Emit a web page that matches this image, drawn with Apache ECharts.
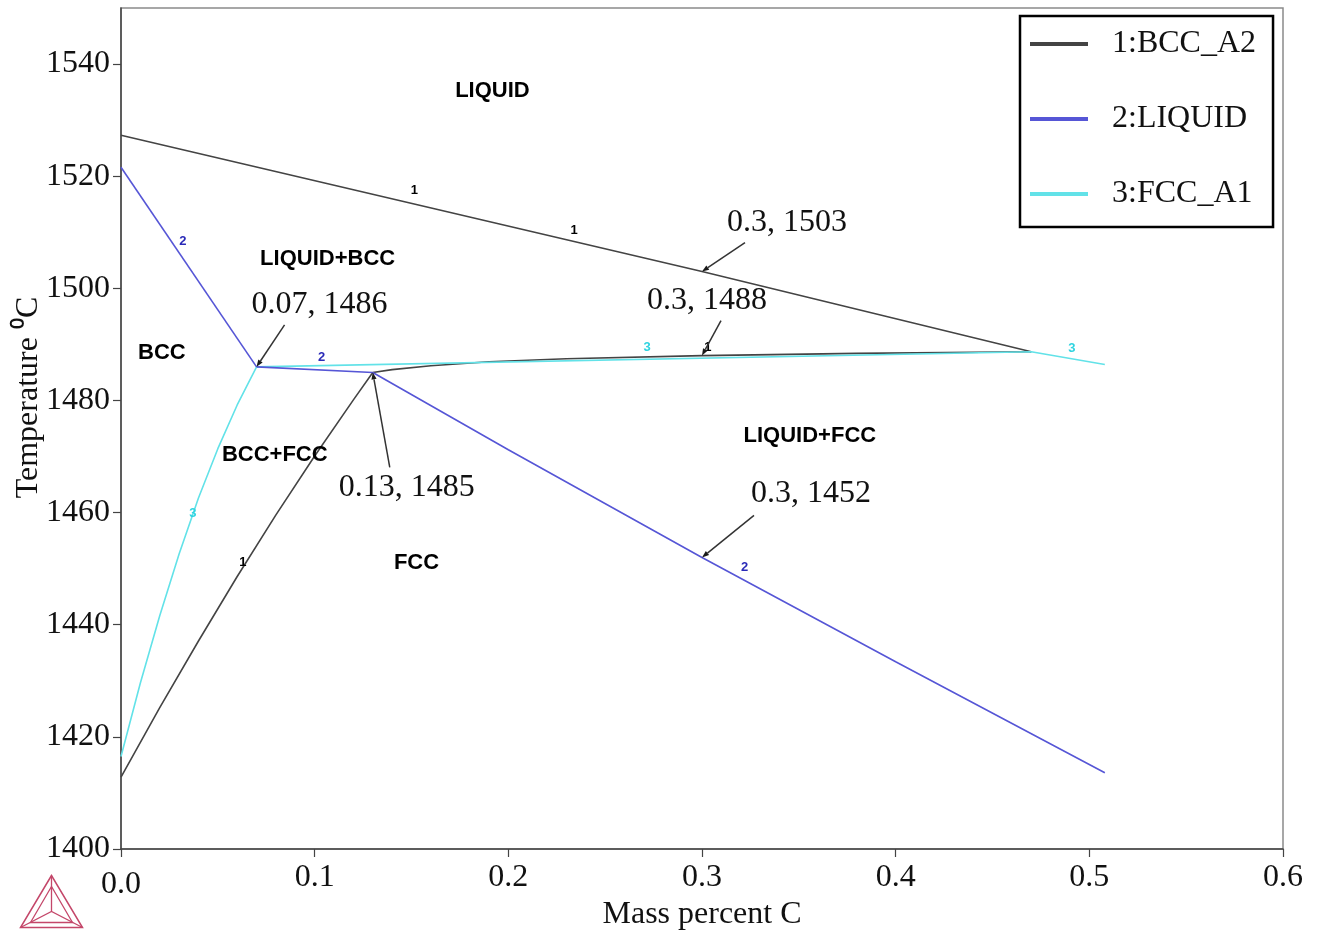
<!DOCTYPE html>
<html>
<head>
<meta charset="utf-8">
<title>Fe-C phase diagram (peritectic region)</title>
<script src="https://cdn.jsdelivr.net/npm/echarts@6/dist/echarts.min.js"></script>
<style>
  html, body { margin: 0; padding: 0; background: #ffffff; }
  #chart { width: 1320px; height: 931px; }
</style>
</head>
<body>
<div id="chart"></div>
<script>
// ---- Axis ticks ----
const xTicks = [0, 0.1, 0.2, 0.3, 0.4, 0.5, 0.6];
const yTicks = [1400, 1420, 1440, 1460, 1480, 1500, 1520, 1540];

// ---- Phase boundaries: [mass percent C, temperature °C] ----
// 1: BCC_A2
const bccUpper = [[0, 1527.3], [0.3, 1503], [0.47, 1488.7]];
const bccLower = [[0.13, 1485], [0.14, 1485.5], [0.16, 1486.2], [0.19, 1486.9], [0.23, 1487.45], [0.3, 1488], [0.38, 1488.4], [0.47, 1488.7]];
const bccSolvus = [[0, 1412.8], [0.02, 1425.2], [0.04, 1437.1], [0.06, 1448.6], [0.08, 1459.6], [0.1, 1470.1], [0.12, 1480.1], [0.13, 1485]];
// 2: LIQUID
const liquidBcc = [[0, 1521.6], [0.07, 1486]];
const liquidFlat = [[0.07, 1486], [0.13, 1485]];
const liquidFcc = [[0.13, 1485], [0.2, 1471.2], [0.3, 1452], [0.4, 1433.4], [0.508, 1413.6]];
// 3: FCC_A1
const fccBcc = [[0, 1416.5], [0.01, 1429.6], [0.02, 1441.6], [0.03, 1452.6], [0.04, 1462.6], [0.05, 1471.4], [0.06, 1479.2], [0.07, 1486]];
const fccUpper = [[0.07, 1486], [0.47, 1488.7], [0.508, 1486.4]];

// ---- Curve number tags along the lines ----
const tags1 = [[0.1515, 1517.4], [0.234, 1510.4], [0.0629, 1451.1], [0.303, 1489.4]];
const tags2 = [[0.032, 1508.3], [0.1036, 1487.6], [0.322, 1450.2]];
const tags3 = [[0.0371, 1459.8], [0.2716, 1489.4], [0.491, 1489.2]];

// ---- Phase field names ----
const regionNames = ['LIQUID', 'LIQUID+BCC', 'BCC', 'BCC+FCC', 'FCC', 'LIQUID+FCC'];
const regionX = [0.1918, 0.1067, 0.0211, 0.0794, 0.1526, 0.3557];
const regionT = [1535.2, 1505.3, 1488.5, 1470.2, 1451.1, 1473.7];

// ---- Marked points ----
const calloutX = [0.07, 0.3, 0.3, 0.13, 0.3];
const calloutT = [1486, 1503, 1488, 1485, 1452];
// pixel offsets of arrow tail and text centre from each marked point
const calloutLayout = [
  { tail: [28, -42], text: [63, -62] },
  { tail: [43, -29], text: [85, -49] },
  { tail: [19, -35], text: [5, -55] },
  { tail: [17, 95], text: [34, 115] },
  { tail: [52, -42], text: [109, -64] }
];

const names = ['1:BCC_A2', '2:LIQUID', '3:FCC_A1'];
const colors = ['#444444', '#5656d6', '#62e2e8'];
const tagColors = ['#000000', '#2a2ab8', '#30d4e0'];

const SERIF = '"Liberation Serif", "Times New Roman", serif';
const SANS = '"Liberation Sans", Arial, sans-serif';
const FS = 32;

function lineSeries(idx, data) {
  return {
    type: 'line',
    name: names[idx],
    data: data,
    showSymbol: false,
    symbol: 'none',
    silent: true,
    z: 3,
    itemStyle: { color: colors[idx] },
    lineStyle: { color: colors[idx], width: 1.6 },
    emphasis: { disabled: true }
  };
}

function tagSeries(idx, data) {
  return {
    type: 'scatter',
    name: 'tags' + idx,
    data: data,
    symbolSize: 1,
    silent: true,
    z: 5,
    itemStyle: { color: 'transparent' },
    label: {
      show: true,
      position: 'inside',
      formatter: String(idx + 1),
      color: tagColors[idx],
      opacity: 1,
      textBorderWidth: 0,
      fontFamily: SANS,
      fontWeight: 'bold',
      fontSize: 13
    },
    emphasis: { disabled: true }
  };
}

const chart = echarts.init(document.getElementById('chart'), null, { renderer: 'canvas' });

const option = {
  animation: false,
  backgroundColor: '#ffffff',
  grid: {
    left: 121, right: 37, top: 8, bottom: 82,
    outerBoundsMode: 'none',
    containLabel: false,
    show: true, borderColor: '#8a8a8a', borderWidth: 1.5, backgroundColor: 'transparent'
  },
  legend: {
    data: names,
    orient: 'vertical',
    left: 1020, top: 16,
    padding: [12, 17, 17, 10],
    borderColor: '#000000', borderWidth: 2.5,
    backgroundColor: '#ffffff',
    icon: 'rect',
    itemWidth: 58, itemHeight: 4,
    itemGap: 43,
    selectedMode: false,
    textStyle: {
      fontFamily: SERIF, fontSize: FS, color: '#111111',
      lineHeight: 30, padding: [0, 0, 0, 19]
    }
  },
  xAxis: {
    type: 'value', min: 0, max: 0.6, interval: 0.1,
    name: 'Mass percent C', nameLocation: 'middle', nameGap: 50,
    nameMoveOverlap: false,
    nameTextStyle: { fontFamily: SERIF, fontSize: FS, color: '#111111' },
    axisLine: { show: true, lineStyle: { color: '#444444', width: 1.5 } },
    axisTick: { show: true, inside: false, length: 8, lineStyle: { color: '#444444', width: 1.2 }, customValues: xTicks },
    axisLabel: {
      customValues: xTicks,
      margin: 13,
      fontFamily: SERIF, fontSize: FS, color: '#111111',
      formatter: v => v === 0 ? '{lo|0.0}' : v.toFixed(1),
      rich: { lo: { fontFamily: SERIF, fontSize: FS, color: '#111111', padding: [7, 0, 0, 0] } }
    },
    splitLine: { show: false }
  },
  yAxis: {
    type: 'value', min: 1400, max: 1550, interval: 20,
    name: 'Temperature \u2070C', nameLocation: 'middle', nameGap: 76, nameRotate: 90,
    nameMoveOverlap: false,
    nameTextStyle: { fontFamily: SERIF, fontSize: FS, color: '#111111', padding: [0, 0, 0, 62] },
    axisLine: { show: true, lineStyle: { color: '#444444', width: 1.5 } },
    axisTick: { show: true, inside: false, length: 8, lineStyle: { color: '#444444', width: 1.2 }, customValues: yTicks },
    axisLabel: {
      customValues: yTicks,
      margin: 11,
      fontFamily: SERIF, fontSize: FS, color: '#111111',
      formatter: v => String(v)
    },
    splitLine: { show: false }
  },
  series: [
    lineSeries(0, bccUpper),
    lineSeries(0, bccLower),
    lineSeries(0, bccSolvus),
    lineSeries(2, fccBcc),
    lineSeries(2, fccUpper),
    lineSeries(1, liquidBcc),
    lineSeries(1, liquidFlat),
    lineSeries(1, liquidFcc),
    tagSeries(0, tags1),
    tagSeries(1, tags2),
    tagSeries(2, tags3),
    {
      type: 'scatter',
      name: 'regions',
      silent: true,
      symbolSize: 1,
      z: 6,
      itemStyle: { color: 'transparent' },
      emphasis: { disabled: true },
      data: regionNames.map((n, i) => ({ name: n, value: [regionX[i], regionT[i]] })),
      label: {
        show: true, position: 'inside',
        formatter: p => p.name,
        opacity: 1,
        textBorderWidth: 0,
        fontFamily: SANS, fontWeight: 'bold', fontSize: 22, color: '#000000'
      }
    },
    {
      type: 'custom',
      name: 'callouts',
      silent: true,
      clip: false,
      z: 7,
      data: calloutX.map((x, i) => [x, calloutT[i]]),
      renderItem: function (params, api) {
        const i = params.dataIndex;
        const x = api.value(0), t = api.value(1);
        const p = api.coord([x, t]);
        const L = calloutLayout[i];
        const tail = [p[0] + L.tail[0], p[1] + L.tail[1]];
        const ang = Math.atan2(p[1] - tail[1], p[0] - tail[0]);
        const hl = 7, hw = 2.6;
        const back = [p[0] - hl * Math.cos(ang), p[1] - hl * Math.sin(ang)];
        const nx = -Math.sin(ang), ny = Math.cos(ang);
        return {
          type: 'group',
          children: [
            {
              type: 'line',
              shape: { x1: tail[0], y1: tail[1], x2: back[0], y2: back[1] },
              style: { stroke: '#333333', lineWidth: 1.5 }
            },
            {
              type: 'polygon',
              shape: { points: [p, [back[0] + nx * hw, back[1] + ny * hw], [back[0] - nx * hw, back[1] - ny * hw]] },
              style: { fill: '#1a1a1a' }
            },
            {
              type: 'text',
              x: p[0] + L.text[0],
              y: p[1] + L.text[1],
              style: {
                text: x + ', ' + t,
                fontFamily: SERIF, fontSize: FS, fill: '#111111',
                align: 'center', verticalAlign: 'middle'
              }
            }
          ]
        };
      }
    }
  ],
  graphic: [
    {
      // Thermo-Calc style logo mark
      type: 'group', left: 18, top: 873, silent: true,
      children: [
        { type: 'polygon', shape: { points: [[31, 0], [0, 52], [62, 52]] }, style: { fill: 'none', stroke: '#c4476a', lineWidth: 1.5 } },
        { type: 'polygon', shape: { points: [[31, 11], [10, 47], [52, 47]] }, style: { fill: 'none', stroke: '#c4476a', lineWidth: 1.3 } },
        { type: 'polyline', shape: { points: [[31, 0], [31, 36]] }, style: { stroke: '#c4476a', lineWidth: 1.3 } },
        { type: 'polyline', shape: { points: [[0, 52], [31, 36], [62, 52]] }, style: { fill: 'none', stroke: '#c4476a', lineWidth: 1.3 } }
      ]
    }
  ]
};

chart.setOption(option);
</script>
</body>
</html>
